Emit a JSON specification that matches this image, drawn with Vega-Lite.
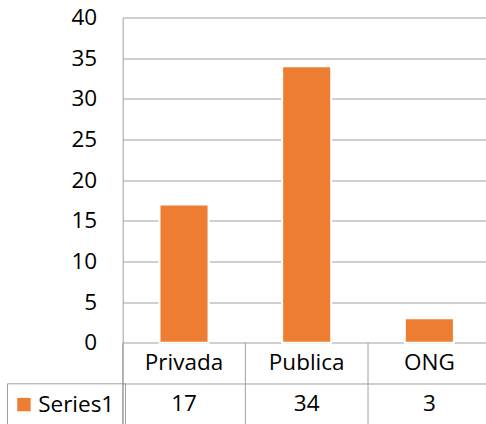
{
  "$schema": "https://vega.github.io/schema/vega-lite/v6.json",
  "autosize": "none",
  "width": 368,
  "height": 406.5,
  "padding": {"left": 122.7, "top": 17.5, "right": 0, "bottom": 0},
  "background": "white",
  "config": {"view": {"stroke": null}, "font": "Open Sans"},
  "data": {"values": [
    {"cat": "Privada", "value": 17, "series": "Series1"},
    {"cat": "Publica", "value": 34, "series": "Series1"},
    {"cat": "ONG", "value": 3, "series": "Series1"}
  ]},
  "encoding": {
    "x": {"field": "cat", "type": "nominal", "sort": null,
      "scale": {"paddingInner": 0, "paddingOuter": 0}, "axis": null}
  },
  "layer": [
    {
      "mark": {"type": "bar", "stroke": "white", "strokeWidth": 2, "width": {"band": 0.4}},
      "encoding": {
        "y": {"field": "value", "type": "quantitative",
          "scale": {"domain": [-10, 40], "nice": false, "zero": false},
          "axis": {"values": [-5, 0, 5, 10, 15, 20, 25, 30, 35, 40],
            "labelExpr": "datum.value < 0 ? '' : datum.label",
            "title": null, "ticks": false, "labelPadding": 26,
            "labelFont": "Open Sans", "labelFontSize": 22.5, "labelColor": "#000000",
            "domainColor": "#A0A0A0", "domainWidth": 1,
            "grid": true, "gridColor": "#A0A0A0", "gridWidth": 1}},
        "y2": {"datum": 0},
        "color": {"field": "series", "type": "nominal",
          "scale": {"range": ["#ED7D31"]},
          "legend": {"orient": "none", "legendX": -115.7, "legendY": 365.8,
            "title": null, "symbolType": "square", "symbolSize": 180,
            "symbolStrokeWidth": 0, "symbolOffset": -4.3,
            "labelFont": "Open Sans", "labelFontSize": 22.5,
            "labelColor": "#000000", "labelOffset": 3, "padding": 10,
            "strokeColor": "#A0A0A0"}}
      }
    },
    {
      "mark": {"type": "rule", "color": "#A0A0A0", "strokeWidth": 1},
      "encoding": {
        "x": {"field": "cat", "type": "nominal", "sort": null, "bandPosition": 0},
        "y": {"datum": 0},
        "y2": {"datum": -10}
      }
    },
    {
      "mark": {"type": "text", "font": "Open Sans", "fontSize": 22.5, "color": "#000000", "baseline": "middle"},
      "encoding": {
        "y": {"datum": -2.5},
        "text": {"field": "cat"}
      }
    },
    {
      "mark": {"type": "text", "font": "Open Sans", "fontSize": 22.5, "color": "#000000", "baseline": "middle"},
      "encoding": {
        "y": {"datum": -7.5},
        "text": {"field": "value"}
      }
    }
  ]
}
